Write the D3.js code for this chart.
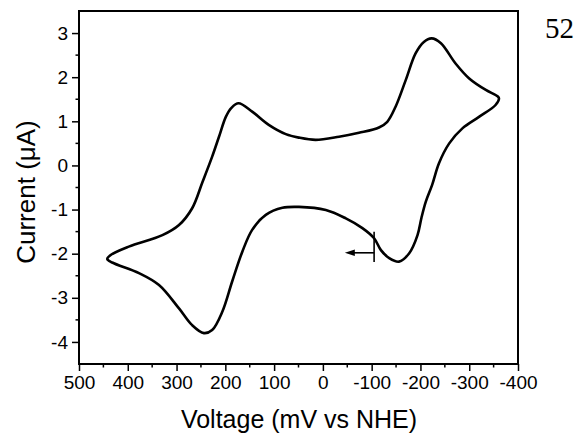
<!DOCTYPE html>
<html>
<head>
<meta charset="utf-8">
<script src="https://cdn.jsdelivr.net/npm/d3@7.9.0/dist/d3.min.js"></script>
<style>
  body { margin: 0; background: #fff; }
  svg { display: block; }
  .tick text { font-family: "Liberation Sans", Arial, sans-serif; }
</style>
</head>
<body>
<svg id="chart" width="580" height="434"></svg>
<script>
// cyclic voltammogram (mV vs NHE, µA), in scan order
const voltage = [
  -105, -81, -47, -6, 49, 83, 117, 145, 165, 186, 206, 227, 244, 268, 295, 336, 377, 432, 442,
  435, 398, 329, 295, 268, 247, 227, 213, 199, 188, 173, 145, 111, 76, 49, 15, -33, -74, -115,
  -132, -149, -170, -190, -207, -223, -242, -272, -300, -334, -358, -361, -354, -320, -286,
  -259, -238, -224, -211, -202, -194, -177, -156, -136, -119
];
const current = [
  -1.65, -1.42, -1.20, -1.01, -0.94, -0.96, -1.12, -1.46, -1.95, -2.63, -3.31, -3.73, -3.80,
  -3.62, -3.24, -2.71, -2.44, -2.20, -2.12, -2.03, -1.84, -1.58, -1.35, -0.97, -0.38,
  0.20, 0.65, 1.10, 1.30, 1.41, 1.22, 0.92, 0.71, 0.63, 0.58, 0.65, 0.74, 0.86, 0.99, 1.33, 1.94,
  2.54, 2.80, 2.88, 2.77, 2.31, 1.97, 1.71, 1.57, 1.52, 1.37, 1.10, 0.84, 0.50, 0.05, -0.44,
  -0.82, -1.19, -1.58, -1.99, -2.18, -2.10, -1.92
];

const xTicks = [500, 400, 300, 200, 100, 0, -100, -200, -300, -400];
const yTicks = [-4, -3, -2, -1, 0, 1, 2, 3];

// start-of-scan marker
const startV = -105;
const startBar = [-1.50, -2.19];
const arrowY = -1.98;
const arrowEndV = -45;

const svg = d3.select('#chart');
const margin = { top: 11, right: 62, bottom: 70, left: 79 };
const W = 580 - margin.left - margin.right;
const H = 434 - margin.top - margin.bottom;

const x = d3.scaleLinear().domain([500, -400]).range([0, W]);
const y = d3.scaleLinear().domain([-4.5, 3.5]).range([H, 0]);

const g = svg.append('g').attr('transform', `translate(${margin.left},${margin.top})`);

// minor ticks
const xMinor = d3.range(-350, 500, 100);
const yMinor = d3.range(-3.5, 3.5, 1);

g.append('g').selectAll('line').data(xMinor).join('line')
  .attr('x1', d => x(d)).attr('x2', d => x(d))
  .attr('y1', H).attr('y2', H + 3.5)
  .attr('stroke', '#000').attr('stroke-width', 1.5);
g.append('g').selectAll('line').data(yMinor).join('line')
  .attr('y1', d => y(d)).attr('y2', d => y(d))
  .attr('x1', 0).attr('x2', -3.5)
  .attr('stroke', '#000').attr('stroke-width', 1.5);

// axes (plain hyphen for negatives, like the original)
const fmt = d => String(d);
const xAxis = g.append('g').attr('transform', `translate(0,${H})`)
  .call(d3.axisBottom(x).tickValues(xTicks).tickFormat(fmt).tickSize(7).tickPadding(5).tickSizeOuter(0));
const yAxis = g.append('g')
  .call(d3.axisLeft(y).tickValues(yTicks).tickFormat(fmt).tickSize(7).tickPadding(4).tickSizeOuter(0));

[xAxis, yAxis].forEach(a => {
  a.select('.domain').remove();
  a.selectAll('.tick line').attr('stroke', '#000').attr('stroke-width', 1.5);
  a.selectAll('.tick text').attr('font-size', 19).attr('fill', '#000');
});

// frame
g.append('rect')
  .attr('x', 0).attr('y', 0).attr('width', W).attr('height', H)
  .attr('fill', 'none').attr('stroke', '#000').attr('stroke-width', 2);

// curve
const pts = voltage.map((v, i) => [v, current[i]]);
const line = d3.line()
  .x(d => x(d[0])).y(d => y(d[1]))
  .curve(d3.curveCatmullRomClosed.alpha(0.5));

g.append('path')
  .attr('d', line(pts))
  .attr('fill', 'none')
  .attr('stroke', '#000')
  .attr('stroke-width', 2.6)
  .attr('stroke-linejoin', 'round');

// start marker + arrow
g.append('line')
  .attr('x1', x(startV)).attr('x2', x(startV))
  .attr('y1', y(startBar[0])).attr('y2', y(startBar[1]))
  .attr('stroke', '#000').attr('stroke-width', 1.6);
g.append('line')
  .attr('x1', x(startV)).attr('x2', x(arrowEndV) + 6)
  .attr('y1', y(arrowY)).attr('y2', y(arrowY))
  .attr('stroke', '#000').attr('stroke-width', 1.6);
const ax = x(arrowEndV), ay = y(arrowY);
g.append('path')
  .attr('d', `M${ax},${ay} L${ax + 10},${ay - 3.2} L${ax + 10},${ay + 3.2} Z`)
  .attr('fill', '#000');

// titles
svg.append('text')
  .attr('x', margin.left + W / 2 + 0.5).attr('y', 428)
  .attr('text-anchor', 'middle')
  .attr('font-family', '"Liberation Sans", Arial, sans-serif')
  .attr('font-size', 25)
  .text('Voltage (mV vs NHE)');

svg.append('text')
  .attr('transform', `translate(35,192) rotate(-90)`)
  .attr('text-anchor', 'middle')
  .attr('font-family', '"Liberation Sans", Arial, sans-serif')
  .attr('font-size', 26)
  .text('Current (\u03bcA)');

svg.append('text')
  .attr('x', 545).attr('y', 38)
  .attr('font-family', '"Liberation Serif", "Times New Roman", serif')
  .attr('font-size', 29)
  .text('52');
</script>
</body>
</html>
